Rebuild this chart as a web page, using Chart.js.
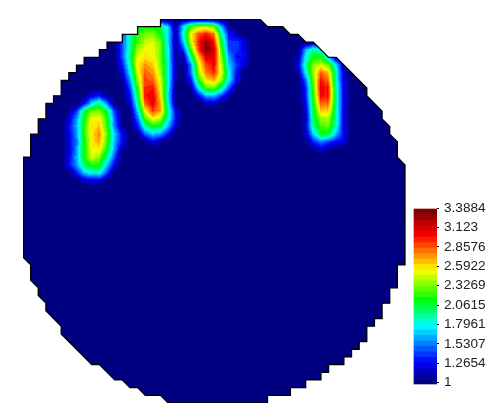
<!DOCTYPE html>
<html>
<head>
<meta charset="utf-8">
<style>html,body{margin:0;padding:0;background:#fff}canvas{display:block}</style>
<script src="https://cdn.jsdelivr.net/npm/chart.js@4/dist/chart.umd.min.js"></script>
</head>
<body>
<canvas id="c" width="488" height="410"></canvas>
<script>
// Colour bar tick labels
const tickLabels = ["3.3884","3.123","2.8576","2.5922","2.3269","2.0615","1.7961","1.5307","1.2654","1"];
const valueMin = 1, valueMax = 3.3884, bandCount = 32;
// Colour map stops: position along the bar, then red, green, blue
const stopAt = [0,0.118,0.33,0.484,0.657,0.86,1];
const stopRgb = [[0,0,128],[0,0,255],[0,255,255],[0,255,0],[255,255,0],[255,0,0],[128,0,0]];

// Field outline, in grid columns and rows
const outlineCols = [0,1,1,2,2,3,3,4,4,5,5,6,6,7,7,8,8,10,10,11,11,13,13,15,15,18,18,31,32,34,35,36,37,38,40,41,45,45,47,47,48,48,49,49,50,50,49,49,48,48,47,47,46,46,45,45,44,44,43,43,42,42,40,40,39,39,37,37,35,35,32,32,19,18,16,15,14,13,12,10,9,5,5,3,3,2,2,1,1,0,0];
const outlineRows = [18,18,15,15,13,13,11,11,10,10,8,8,7,7,6,6,5,5,4,4,3,3,2,2,1,1,0,0,1,1,2,2,3,3,5,5,9,10,12,13,14,15,16,18,19,32,32,35,35,37,37,39,39,40,40,42,42,43,43,44,44,45,45,46,46,47,47,48,48,49,49,50,50,49,49,48,48,47,47,45,45,41,40,38,37,36,35,34,32,31,18];

// Hot spots: [row, first column, values at successive columns...]
const blobA = [
 [10,8,1.05,1.25,1.35,1.1],
 [11,8,1.3,1.75,1.95,1.55,1.05],
 [12,6,1.08,1.4,2.05,2.35,2.35,2.05,1.4],
 [13,6,1.2,1.6,2.15,2.55,2.55,2.2,1.5,1.05],
 [14,6,1.3,1.65,2.2,2.6,2.65,2.2,1.55,1.1],
 [15,6,1.25,1.6,2.2,2.6,2.75,2.3,1.7,1.3],
 [16,6,1.25,1.55,2.15,2.6,2.7,2.25,1.65,1.3],
 [17,6,1.2,1.6,2.15,2.55,2.55,2.15,1.6,1.1],
 [18,6,1.25,1.65,2.15,2.5,2.35,1.95,1.45],
 [19,6,1.3,1.6,2.0,2.2,2.15,1.7,1.25],
 [20,6,1.05,1.35,1.7,1.85,1.85,1.45,1.05],
 [21,8,1.2,1.25,1.25,1.05]
];
const blobB = [
 [1,15,1.95,2.15,2.15,2.05,1.7],
 [2,13,1.45,1.9,2.2,2.35,2.35,2.15,1.75,1.1],
 [3,13,1.45,1.95,2.25,2.45,2.5,2.3,1.75,1.1],
 [4,12,1.05,1.45,1.95,2.4,2.55,2.55,2.35,1.8,1.1],
 [5,12,1.05,1.45,2.0,2.5,2.6,2.55,2.35,1.8,1.1],
 [6,12,1.0,1.35,1.9,2.55,2.75,2.65,2.35,1.85,1.1],
 [7,13,1.2,1.8,2.5,2.85,2.75,2.4,1.85,1.1],
 [8,13,1.1,1.6,2.35,2.9,2.85,2.5,1.85,1.1],
 [9,14,1.45,2.2,2.95,3.0,2.55,1.8,1.05],
 [10,14,1.3,2.05,3.0,3.1,2.6,1.75,1.05],
 [11,14,1.2,1.9,2.85,3.1,2.7,1.8,1.05],
 [12,14,1.05,1.7,2.55,2.9,2.7,1.95,1.25],
 [13,15,1.5,2.25,2.55,2.4,1.85,1.3],
 [14,15,1.3,1.9,2.15,2.05,1.65,1.2],
 [15,15,1.05,1.5,1.7,1.6,1.3],
 [16,16,1.05,1.25,1.1]
];
const blobC = [
 [1,20,1.1,1.75,2.25,2.4,2.45,2.3,1.65,1.1],
 [2,20,1.1,1.85,2.55,2.9,3.0,2.8,1.95,1.3,1.15],
 [3,20,1.05,1.7,2.5,3.0,3.3,3.0,2.1,1.4,1.4,1.25],
 [4,21,1.4,2.25,2.95,3.35,3.15,2.25,1.45,1.4,1.25],
 [5,21,1.15,1.95,2.65,3.1,3.1,2.35,1.6,1.3,1.3],
 [6,21,1.05,1.6,2.5,2.9,3.05,2.45,1.7,1.4,1.2],
 [7,21,1.05,1.55,2.4,2.8,2.95,2.5,1.8,1.3],
 [8,21,1.0,1.35,2.15,2.6,2.7,2.35,1.75,1.25],
 [9,22,1.1,1.8,2.25,2.3,1.95,1.45,1.05],
 [10,23,1.3,1.65,1.65,1.4,1.1],
 [11,24,1.15,1.2,1.05]
];
const blobD = [
 [3,38,1.1],
 [4,37,1.65,1.95,1.8,1.45],
 [5,36,1.15,1.8,2.15,2.15,1.75,1.15],
 [6,36,1.2,1.95,2.35,2.5,2.3,1.75,1.1],
 [7,36,1.1,1.8,2.4,2.85,2.65,1.85,1.2],
 [8,36,1.0,1.5,2.35,3.0,2.8,1.85,1.25],
 [9,37,1.35,2.25,3.1,2.95,1.9,1.25],
 [10,37,1.35,2.2,3.05,2.95,1.95,1.25],
 [11,37,1.25,2.15,2.85,2.8,1.95,1.25],
 [12,37,1.2,2.05,2.65,2.6,1.9,1.25],
 [13,37,1.15,2.0,2.4,2.4,1.9,1.25],
 [14,37,1.2,1.95,2.25,2.3,1.85,1.25],
 [15,37,1.15,1.7,2.1,2.1,1.65,1.3],
 [16,37,1.02,1.35,1.55,1.4,1.3,1.25],
 [17,38,1.05,1.2,1.1]
];

// ---- colour map
function clamp01(v){return Math.max(0,Math.min(1,v));}
function mapColor(t){
  let i=0;
  while(i<stopAt.length-2 && t>stopAt[i+1]) i++;
  const f=clamp01((t-stopAt[i])/(stopAt[i+1]-stopAt[i]));
  return stopRgb[i].map((c,k)=>Math.round(c+(stopRgb[i+1][k]-c)*f));
}
function bandColor(v){
  const t = clamp01((v-valueMin)/(valueMax-valueMin));
  const i = Math.min(bandCount-1,Math.floor(t*bandCount));
  return mapColor(i/(bandCount-1));
}

// ---- grid lookup
const grid = new Map();
const key = (c,r)=>c+","+r;
[blobA,blobB,blobC,blobD].forEach(b=>b.forEach(row=>{
  for(let i=2;i<row.length;i++) grid.set(key(row[1]+i-2,row[0]),row[i]);
}));
const at = (c,r)=>grid.has(key(c,r))?grid.get(key(c,r)):valueMin;

// cells touching a hot vertex
const heatCells = [];
for(let r=0;r<50;r++)for(let c=0;c<50;c++){
  if(at(c,r)>1||at(c+1,r)>1||at(c,r+1)>1||at(c+1,r+1)>1) heatCells.push({x:c+0.5,y:r+0.5,c,r});
}

// ---- scale geometry
const pitchX = 7.64;
const areaLeft = 23, areaRight = 437, areaTop = 19, areaBottom = 403;
const cbPerUnit = 73, cbOne = 382.5, cbTop = 209, cbBottom = 384;
const cbMin = 1-(areaBottom-cbOne)/cbPerUnit;
const cbMax = 1+(cbOne-areaTop)/cbPerUnit;
const v4px = p => 1+(cbOne-p)/cbPerUnit;
const cbX = (426-areaLeft)/pitchX;

// colour bar bands
const bandData = [], bandColors = [];
for(let i=0;i<bandCount;i++){
  const lo = v4px(cbBottom)+(v4px(cbTop)-v4px(cbBottom))*i/bandCount;
  const hi = v4px(cbBottom)+(v4px(cbTop)-v4px(cbBottom))*(i+1)/bandCount;
  bandData.push({x:cbX,y:[lo,hi]});
  const rgb = mapColor(i/(bandCount-1));
  bandColors.push(`rgb(${rgb[0]},${rgb[1]},${rgb[2]})`);
}

// Each heat cell is a little shaded tile the library places as a point
const tileCache = new Map();
function tile(cell){
  const k = key(cell.c,cell.r);
  if(tileCache.has(k)) return tileCache.get(k);
  const S = 10;
  const cv = document.createElement("canvas");
  cv.width = S; cv.height = S;
  const g = cv.getContext("2d");
  const img = g.createImageData(S,S);
  const a=at(cell.c,cell.r), b=at(cell.c+1,cell.r), d=at(cell.c,cell.r+1), e=at(cell.c+1,cell.r+1);
  for(let y=0;y<S;y++)for(let x=0;x<S;x++){
    const u=(x+0.5-S/2)/pitchX+0.5, w=(y+0.5-S/2)/7.68+0.5;
    const v=a*(1-u)*(1-w)+b*u*(1-w)+d*(1-u)*w+e*u*w;
    const rgb=bandColor(v), o=(y*S+x)*4;
    img.data[o]=rgb[0];img.data[o+1]=rgb[1];img.data[o+2]=rgb[2];img.data[o+3]=255;
  }
  g.putImageData(img,0,0);
  tileCache.set(k,cv);
  return cv;
}

const outlinePoints = outlineCols.map((c,i)=>({x:c,y:outlineRows[i]}));

const clipToField = {
  id:"clipToField",
  beforeDatasetDraw(chart,args){
    if(chart.data.datasets[args.index].label!=="heat") return;
    const {ctx,scales:{x,y}} = chart;
    ctx.save();
    ctx.beginPath();
    outlinePoints.forEach((p,i)=>{
      const px=x.getPixelForValue(p.x), py=y.getPixelForValue(p.y);
      i?ctx.lineTo(px,py):ctx.moveTo(px,py);
    });
    ctx.closePath();
    ctx.clip();
  },
  afterDatasetDraw(chart,args){
    if(chart.data.datasets[args.index].label==="heat") chart.ctx.restore();
  }
};

new Chart(document.getElementById("c"),{
  data:{datasets:[
    {type:"scatter",label:"edge",order:0,data:outlinePoints,showLine:true,tension:0,pointRadius:0,borderColor:"#000",borderWidth:1.3,fill:false,xAxisID:"x",yAxisID:"y"},
    {type:"scatter",label:"heat",order:1,data:heatCells,showLine:false,pointRadius:6,pointBorderWidth:0,pointStyle:ctx=>ctx.raw?tile(ctx.raw):"rect",xAxisID:"x",yAxisID:"y"},
    {type:"scatter",label:"field",order:2,data:outlinePoints,showLine:true,tension:0,pointRadius:0,borderWidth:0,borderColor:"#000080",backgroundColor:"#000080",fill:"shape",xAxisID:"x",yAxisID:"y"},
    {type:"bar",label:"colorbar",order:3,data:bandData,backgroundColor:bandColors,barThickness:24,borderWidth:0,xAxisID:"x",yAxisID:"cb"}
  ]},
  options:{
    responsive:false,animation:false,
    layout:{padding:{left:areaLeft,top:areaTop,bottom:410-areaBottom,right:0}},
    plugins:{legend:{display:false},tooltip:{enabled:false},title:{display:false}},
    scales:{
      x:{type:"linear",min:0,max:(areaRight-areaLeft)/pitchX,offset:false,display:false,grid:{display:false}},
      y:{type:"linear",min:0,max:50,reverse:true,display:false,grid:{display:false}},
      cb:{
        type:"linear",position:"right",min:cbMin,max:cbMax,
        afterFit(s){s.width=488-areaRight;s.paddingTop=0;s.paddingBottom=0;},
        afterBuildTicks(s){s.ticks=tickLabels.map(Number).map(v=>({value:v}));},
        border:{display:false},
        grid:{drawOnChartArea:false,drawTicks:true,tickLength:2,color:"#000",lineWidth:1},
        ticks:{
          autoSkip:false,maxRotation:0,padding:5,color:"#222",
          font:{family:"'Liberation Sans'",size:13.6},
          callback(v){return tickLabels.find(t=>Number(t)===v);}
        }
      }
    }
  },
  plugins:[clipToField]
});
</script>
</body>
</html>
